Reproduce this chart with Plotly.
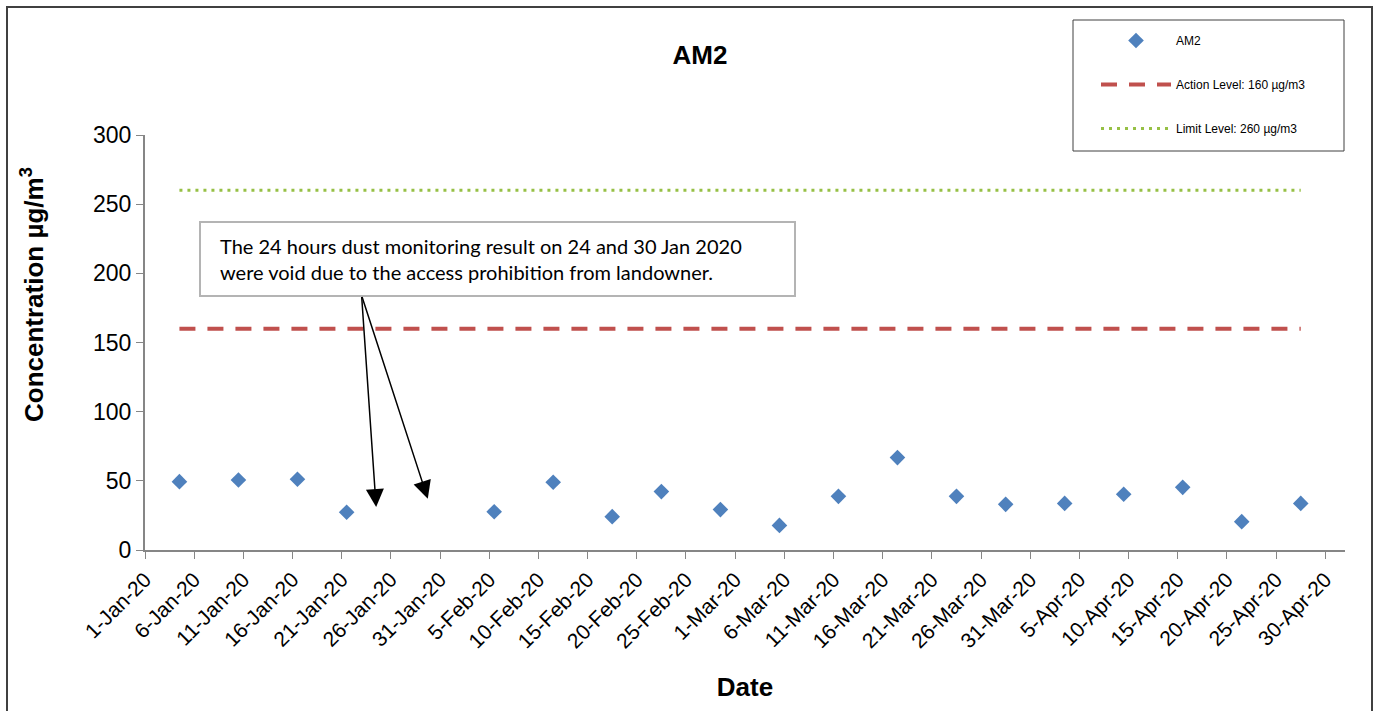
import pandas as pd
import plotly.graph_objects as go

# ---- data ----
dates = ["2020-01-04", "2020-01-10", "2020-01-16", "2020-01-21", "2020-02-05",
         "2020-02-11", "2020-02-17", "2020-02-22", "2020-02-28", "2020-03-05",
         "2020-03-11", "2020-03-17", "2020-03-23", "2020-03-28", "2020-04-03",
         "2020-04-09", "2020-04-15", "2020-04-21", "2020-04-27"]
am2_values = [49.4, 50.6, 51.1, 27.3, 27.7, 49.0, 24.1, 42.2, 29.2, 17.8,
              38.8, 66.8, 38.8, 33.0, 33.7, 40.3, 45.3, 20.5, 33.7]
action_level = 160
limit_level = 260
void_dates = ["2020-01-24", "2020-01-30"]
note_text = ("The 24 hours dust monitoring result on 24 and 30 Jan 2020<br>"
             "were void due to the access prohibition from landowner.")

# Excel date axis centres points in the middle of each day
x = pd.to_datetime(dates) + pd.Timedelta(hours=12)
action_values = [action_level] * len(dates)
limit_values = [limit_level] * len(dates)
tickvals = pd.date_range("2020-01-01", "2020-04-30", freq="5D")

W, H = 1378, 711
L, R, T, B = 145, 33, 135, 161
PW, PH = W - L - R, H - T - B


def px(xp):
    return (xp - L) / PW


def py(yp):
    return (H - B - yp) / PH


fig = go.Figure()
fig.add_trace(go.Scatter(
    x=x, y=am2_values, mode="markers", name="AM2", legendgroup="a",
    marker=dict(symbol="diamond", color="#4F81BD", size=12),
))
fig.add_trace(go.Scatter(
    x=x, y=action_values, mode="lines", name="Action Level: 160 µg/m3",
    legendgroup="b",
    line=dict(color="#C0504D", width=4, dash="16px,12px"),
))
fig.add_trace(go.Scatter(
    x=x, y=limit_values, mode="lines", name="Limit Level: 260 µg/m3",
    legendgroup="c",
    line=dict(color="#96C045", width=3, dash="3px,5px"),
))

axis_col = "#868686"
fig.update_layout(
    width=W, height=H,
    margin=dict(l=L, r=R, t=T, b=B),
    paper_bgcolor="white", plot_bgcolor="white",
    font=dict(family="Arial, Liberation Sans, sans-serif", color="black"),
    title=dict(text="<b>AM2</b>", font=dict(size=26, color="black"),
               xref="container", yref="container",
               x=700 / W, xanchor="center", y=1 - 55 / H, yanchor="middle"),
    xaxis=dict(
        type="date", range=["2020-01-01", "2020-05-02"],
        tickvals=tickvals, tickformat="%-d-%b-%y", tickangle=-45,
        tickfont=dict(size=21), ticks="outside", ticklen=7, tickcolor=axis_col,
        showline=True, linecolor=axis_col, linewidth=2, showgrid=False,
        zeroline=False,
        title=dict(text="<b>Date</b>", font=dict(size=26), standoff=26),
    ),
    yaxis=dict(
        range=[0, 300], tickvals=[0, 50, 100, 150, 200, 250, 300],
        tickfont=dict(size=23), ticks="outside", ticklen=7, tickcolor=axis_col,
        ticksuffix="\u00a0",
        showline=True, linecolor=axis_col, linewidth=2, showgrid=False,
        zeroline=False,
    ),
    legend=dict(
        x=px(1096), y=py(26), xanchor="left", yanchor="top",
        bgcolor="rgba(0,0,0,0)", borderwidth=0, itemwidth=70,
        font=dict(size=12), tracegroupgap=25,
    ),
    showlegend=True,
)

# y-axis title
fig.add_annotation(
    xref="paper", yref="paper", x=px(32), y=py(295),
    xanchor="center", yanchor="middle", textangle=-90, showarrow=False,
    text="<b>Concentration µg/m<sup>3</sup></b>",
    font=dict(size=26, color="black"),
)

# outer chart border and legend box
fig.add_shape(type="rect", xref="paper", yref="paper",
              x0=px(7), x1=px(1372), y0=py(720), y1=py(7),
              line=dict(color="#404040", width=2), fillcolor="rgba(0,0,0,0)",
              layer="above")
fig.add_shape(type="rect", xref="paper", yref="paper",
              x0=px(1073), x1=px(1344), y0=py(151), y1=py(20),
              line=dict(color="#404040", width=1), fillcolor="rgba(0,0,0,0)",
              layer="above")

# note box
fig.add_shape(type="rect", xref="paper", yref="paper",
              x0=px(200), x1=px(795), y0=py(296), y1=py(222),
              line=dict(color="#B4B4B4", width=2), fillcolor="white",
              layer="above")
fig.add_annotation(
    xref="paper", yref="paper", x=px(218), y=py(259),
    xanchor="left", yanchor="middle", text=note_text, showarrow=False,
    align="left",
    font=dict(family="Lato, Open Sans, sans-serif", size=20, color="black"),
)

# arrows to the void dates
tips = [("2020-01-24 12:00", 31), ("2020-01-29 18:00", 37)]
for tx, ty in tips:
    fig.add_annotation(
        x=tx, y=ty, xref="x", yref="y",
        ax="2020-01-23 00:30", ay=184, axref="x", ayref="y",
        text="", showarrow=True, arrowhead=2, arrowsize=2.4, arrowwidth=1.5,
        arrowcolor="black",
    )

fig.write_html("out.html", config={"displayModeBar": False},
               post_script="document.body.style.margin='0';"
                           "document.body.style.overflow='hidden';")
